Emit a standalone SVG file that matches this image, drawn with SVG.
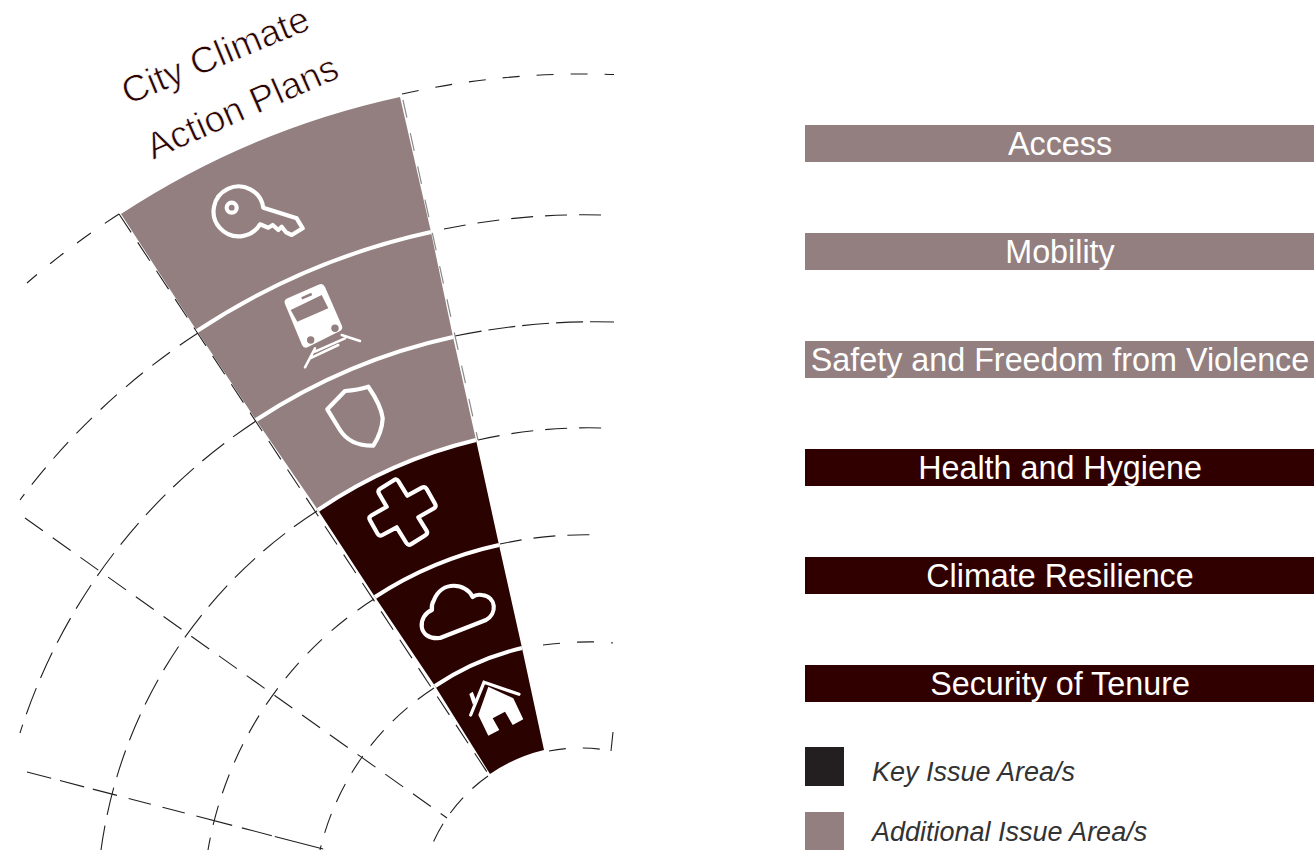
<svg xmlns="http://www.w3.org/2000/svg" width="1314" height="850" viewBox="0 0 1314 850">
<style>
.lite{fill:#937f7f}.deep{fill:#2a0300}
.sep{fill:none;stroke:#fff;stroke-width:4}
.d{fill:none;stroke:#231f20;stroke-width:1.1;stroke-dasharray:17 17}
.d2{fill:none;stroke:#231f20;stroke-width:1.1;stroke-dasharray:22 12}
.d3{fill:none;stroke:#231f20;stroke-width:1.1;stroke-dasharray:28 11}
.d4{fill:none;stroke:#231f20;stroke-width:1.1;stroke-dasharray:20 13}
.e{fill:none;stroke:#8a8a8a;stroke-width:1.2;stroke-dasharray:18 16}
.ic{fill:none;stroke:#fff;stroke-width:4.2;stroke-linejoin:round;stroke-linecap:round}
.bl{fill:#937f7f}.bd{fill:#300000}
.bt{font:32.3px "Liberation Sans",Arial,sans-serif;fill:#fff;text-anchor:middle}
.lg{font:italic 27px "Liberation Sans",Arial,sans-serif;fill:#333}
.ti{font:37px "Liberation Sans",Arial,sans-serif;fill:#2a0300;stroke:#fff;stroke-width:.7}
</style>
<g id="connectors">
<path class="d" d="M402,94 A830 830 0 0 1 614,74.500"/>
<path class="d2" d="M444,229 A700 700 0 0 1 601,215"/>
<path class="d3" style="stroke-dasharray:27 7" d="M455,336 A700 700 0 0 1 614,322"/>
<path class="d2" d="M478,440 A500 500 0 0 1 603,428"/>
<path class="d2" d="M500,544 A400 400 0 0 1 598,535"/>
<path class="d" d="M543,645 Q585,640 613,643"/>
<path class="d" d="M549,751 Q581,745 612,751"/>
<path class="d" style="stroke-dasharray:none" d="M611,751 L613,732"/>
<path class="d" d="M119,214 A831 831 0 0 0 27,283"/>
<path class="d2" d="M198,333 A693 693 0 0 0 20,500"/>
<path class="d3" d="M256,421 A586 586 0 0 0 20,733"/>
<path class="d3" d="M317,511 A480 480 0 0 0 101,850"/>
<path class="d4" d="M374,599 A373 373 0 0 0 208,850"/>
<path class="d4" d="M434,688 A267 267 0 0 0 320,850"/>
<path class="d4" d="M488,776 A163 163 0 0 0 430,850"/>
<path class="d2" d="M25,518 L447,818"/>
<path class="d2" style="stroke-dasharray:25 9 25 9 25 12 23 12 23 12 37 10 31 3 50" d="M27,772 L327,850"/>
<path class="d2" d="M119,214 L491,778"/>
<path class="e" d="M403,100 L478,440"/>
</g>
<g id="wedge-access"><path class="lite" d="M121,214 A831 831 0 0 1 400,97 L431,232 A693 693 0 0 0 197,331 Z"/>
<path class="ic" d="M260,224.300 A25 25 0 1 1 263.300,207.700 L296.700,218.300 L302.700,228.300 L291.700,235 L286,232.300 L281.700,226.700 L278.300,230 L272.700,225 L268.300,227.700 Z"/><circle class="ic" cx="231.700" cy="207.700" r="5"/></g>
<g id="wedge-mobility"><path class="lite" d="M197,331 A693 693 0 0 1 431,232 L453,337 A586 586 0 0 0 256,420 Z"/>
<path d="M285,304 Q283.500,300 287,298.500 L319,284.500 Q323,283 325,287 L342,326 Q343,329 340,331 L308,347 Q304,349 302,345 Z" fill="#fff"/>
<path class="lite" d="M290.700,310 L321.700,295 L328.300,308.300 L297.300,321.700 Z"/>
<path d="M301.700,298.300 L311.700,294" stroke="#937f7f" stroke-width="2.500"/>
<circle class="lite" cx="310.700" cy="340" r="3.700"/><circle class="lite" cx="335" cy="328.300" r="3.700"/>
<path d="M305,367.300 L315,348.300 M360,341 L341.700,335 M310,358.300 L338.300,345 M315,351.700 L345,338.300" fill="none" stroke="#fff" stroke-width="2.500" stroke-linecap="round"/></g>
<g id="wedge-safety"><path class="lite" d="M256,420 A586 586 0 0 1 453,337 L476,440 A480 480 0 0 0 318,510 Z"/>
<path class="ic" d="M327.300,409.300 L345,391 Q358,390 368.300,386.700 Q381,405 382.700,418.300 Q382,432 373.300,445.700 Q350,446 340,430 Z"/></g>
<g id="wedge-health"><path class="deep" d="M318,510 A480 480 0 0 1 476,440 L499,545 A373 373 0 0 0 375,597 Z"/>
<path class="ic" d="M380.200,488.800 L393.800,480.200 Q396.700,478.300 398.500,481.300 L407.300,495.700 L421.900,487.700 Q425,486 426.700,489 L435,503.700 Q436.700,506.700 433.700,508.500 L418.300,517.300 L426.400,530.300 Q428.300,533.300 425.400,535.200 L411.200,544.100 Q408.300,546 406.400,543 L396.700,527.300 L382.400,535 Q379.300,536.700 377.600,533.700 L370,520.300 Q368.300,517.300 371.300,515.500 L386.700,506.700 L379.100,493.700 Q377.300,490.700 380.200,488.800 Z"/></g>
<g id="wedge-climate"><path class="deep" d="M375,597 A373 373 0 0 1 499,545 L522,648 A267 267 0 0 0 435,686 Z"/>
<path class="ic" d="M440,638 L486,620 C497,614 497,597 482,595 Q476,594 472.700,597 C466,583 442,580 434,600 Q431,605 432,610 C418,615 416,640 440,638 Z"/></g>
<g id="wedge-tenure"><path class="deep" d="M435,686 A267 267 0 0 1 522,648 L544,750 A163 163 0 0 0 490,774 Z"/>
<path d="M488.300,686.700 L513.300,698.300 L523.300,719.300 L512.700,725 L505,711.700 L492.700,718.300 L499.300,730 L488.300,735.700 L478.300,715 Z" fill="#fff"/>
<path d="M470.700,715 L484,682.300 L519,694.300" fill="none" stroke="#fff" stroke-width="3.200" stroke-linecap="round"/>
<path d="M469.300,694 L472.700,691.700 L476,700 L473,705 Z" fill="#fff"/></g>
<g id="separators">
<path class="sep" d="M197,331 A693 693 0 0 1 431,232"/>
<path class="sep" d="M256,420 A586 586 0 0 1 453,337"/>
<path class="sep" d="M318,510 A480 480 0 0 1 476,440"/>
<path class="sep" d="M375,597 A373 373 0 0 1 499,545"/>
<path class="sep" d="M435,686 A267 267 0 0 1 522,648"/>
</g>
<g id="title">
<text class="ti" transform="translate(128,105) rotate(-22.500)">City Climate</text>
<text class="ti" transform="translate(153,160) rotate(-23.800)">Action Plans</text>
</g>
<g id="bar-access"><rect class="bl" x="805" y="125" width="509" height="37"/><text class="bt" x="1060" y="155">Access</text></g>
<g id="bar-mobility"><rect class="bl" x="805" y="233" width="509" height="37"/><text class="bt" x="1060" y="263">Mobility</text></g>
<g id="bar-safety"><rect class="bl" x="805" y="341" width="509" height="37"/><text class="bt" x="1060" y="371">Safety and Freedom from Violence</text></g>
<g id="bar-health"><rect class="bd" x="805" y="449" width="509" height="37"/><text class="bt" x="1060" y="479">Health and Hygiene</text></g>
<g id="bar-climate"><rect class="bd" x="805" y="557" width="509" height="37"/><text class="bt" x="1060" y="587">Climate Resilience</text></g>
<g id="bar-tenure"><rect class="bd" x="805" y="665" width="509" height="37"/><text class="bt" x="1060" y="695">Security of Tenure</text></g>
<g id="legend-key"><rect x="805" y="747" width="39" height="39" fill="#231f20"/><text class="lg" x="872" y="781">Key Issue Area/s</text></g>
<g id="legend-additional"><rect class="bl" x="805" y="812" width="39" height="38"/><text class="lg" x="872" y="841">Additional Issue Area/s</text></g>
</svg>
